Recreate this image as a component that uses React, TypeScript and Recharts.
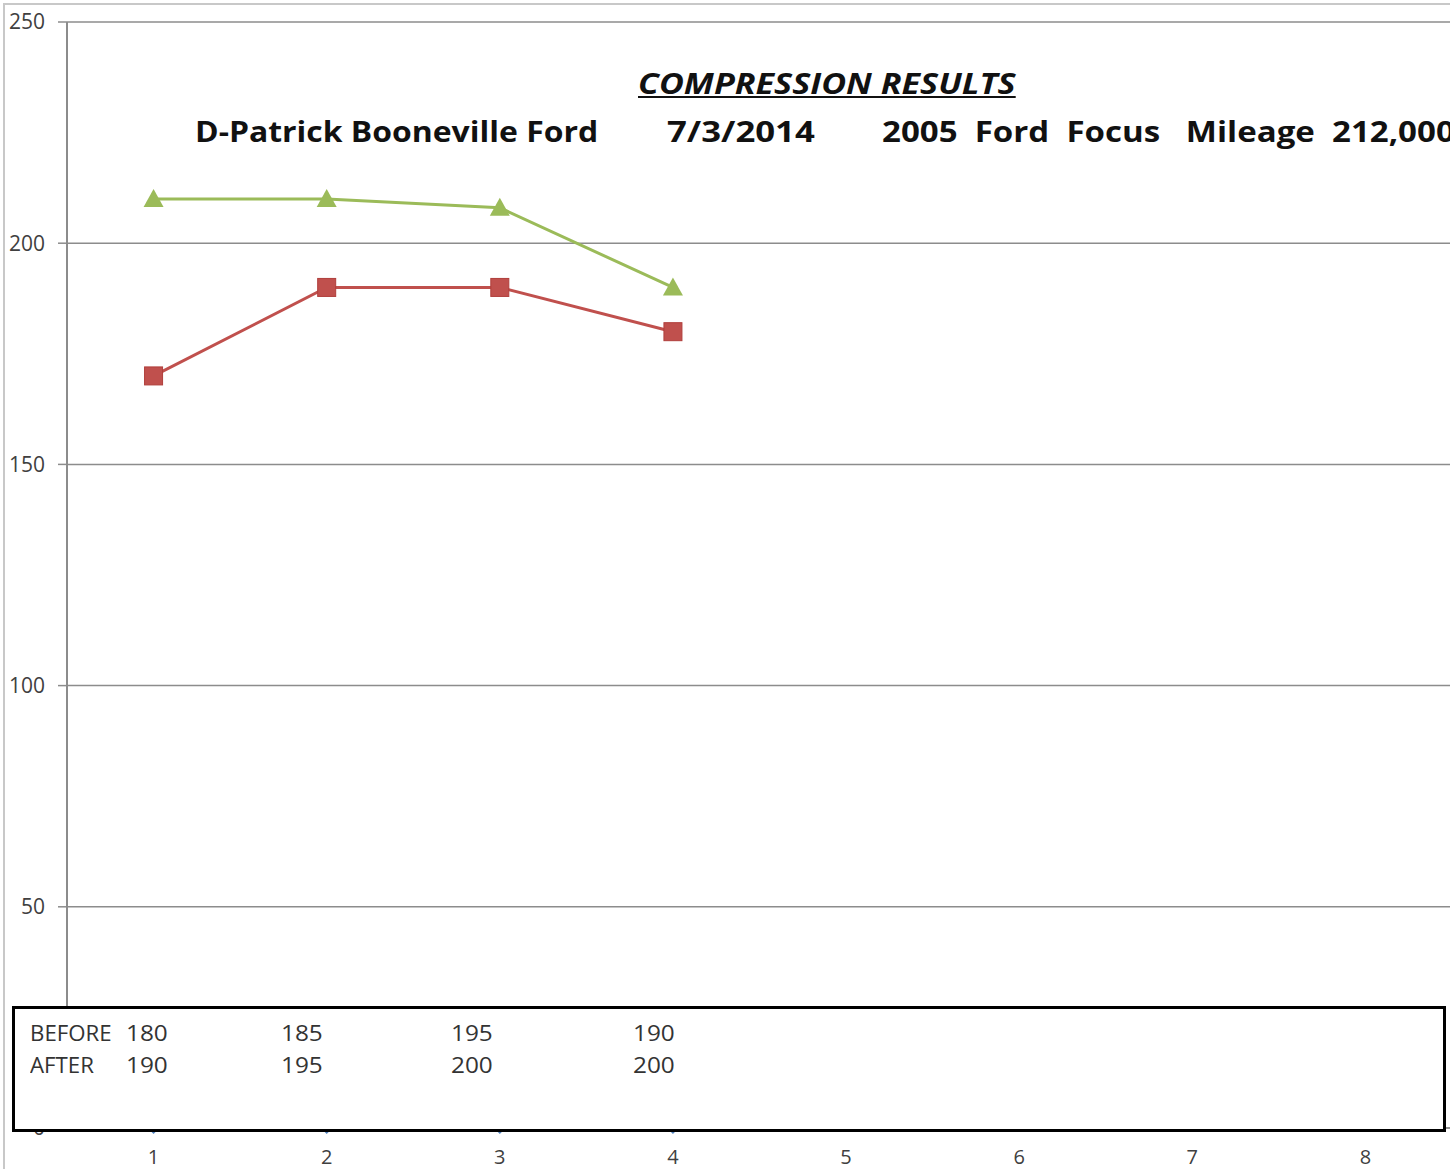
import React from "react";
import { LineChart, Line, XAxis, YAxis, CartesianGrid } from "recharts";

const cylinders = [1, 2, 3, 4, 5, 6, 7, 8];
const beforeSeries = [170, 190, 190, 180];
const afterSeries = [210, 210, 208, 190];
const baseSeries = [0, 0, 0, 0];
const yTicks = [0, 50, 100, 150, 200, 250];
const minorTicks = [0.5, 1.5, 2.5, 3.5, 4.5, 5.5, 6.5, 7.5, 8.5];

const boxBefore = [180, 185, 195, 190];
const boxAfter = [190, 195, 200, 200];

const data = cylinders.map((c, i) => ({
    cyl: c,
    before: beforeSeries[i] ?? null,
    after: afterSeries[i] ?? null,
    base: baseSeries[i] ?? null,
}));

const font = "'Open Sans', Lato, sans-serif";
const boxCols = [126, 281, 451, 633];

const Square = (props: any) => {
    const { cx, cy, index } = props;
    if (cx == null || cy == null) return <g key={index} />;
    return <rect key={index} x={cx - 9} y={cy - 9} width={18} height={18} fill="#C0504D" stroke="#B03E3B" strokeWidth={1} />;
};

const Triangle = (props: any) => {
    const { cx, cy, index } = props;
    if (cx == null || cy == null) return <g key={index} />;
    return <path key={index} d={`M${cx},${cy - 10} L${cx + 10},${cy + 8} L${cx - 10},${cy + 8} Z`} fill="#9BBB59" />;
};

const Diamond = (props: any) => {
    const { cx, cy, index } = props;
    if (cx == null || cy == null) return <g key={index} />;
    return <path key={index} d={`M${cx},${cy - 6} L${cx + 6},${cy} L${cx},${cy + 6} L${cx - 6},${cy} Z`} fill="#4F81BD" />;
};

// the reference text is set in a wider face than anything installed, so stretch it a little
const Wide = ({ left, top, size, k, style, children }: any) => (
    <div style={{ position: "absolute", left, top, fontSize: size, whiteSpace: "pre", transform: `scaleX(${k})`, transformOrigin: "left top", ...style }}>
        {children}
    </div>
);

const heading = { fontWeight: 700, color: "#111" };

export default function App() {
    return (
        <div style={{ position: "absolute", left: 0, top: 0, width: 1450, height: 1169, overflow: "hidden", background: "#fff", fontFamily: font }}>
            <div style={{ position: "absolute", left: 3, top: 3, width: 1460, height: 1180, borderLeft: "2px solid #c8c8c8", borderTop: "2px solid #c8c8c8" }} />

            <LineChart width={1452} height={1169} data={data} margin={{ top: 22, right: 0, bottom: 11, left: 1 }} style={{ position: "absolute", left: 0, top: 0 }}>
                <CartesianGrid vertical={false} stroke="#8c8c8c" strokeWidth={1.5} />
                <XAxis xAxisId="minor" type="number" domain={[0.5, 8.5]} ticks={minorTicks} height={0} tick={false} axisLine={false} tickLine={{ stroke: "#555", strokeWidth: 1.5 }} tickSize={7} allowDataOverflow />
                <XAxis dataKey="cyl" type="number" domain={[0.5, 8.5]} ticks={cylinders} height={30} tickLine={false} tickSize={10} tickMargin={12} axisLine={{ stroke: "#888", strokeWidth: 1.5 }} tick={{ fill: "#404040", fontSize: 20, fontFamily: font }} allowDataOverflow />
                <YAxis domain={[0, 250]} ticks={yTicks} width={66} tickSize={9} tickMargin={13} axisLine={{ stroke: "#8c8c8c", strokeWidth: 2 }} tickLine={{ stroke: "#8c8c8c", strokeWidth: 1.5 }} tick={{ fill: "#404040", fontSize: 21, fontFamily: font }} />
                <Line dataKey="base" stroke="#4F81BD" strokeWidth={3} dot={Diamond} isAnimationActive={false} />
                <Line dataKey="before" stroke="#C0504D" strokeWidth={3} dot={Square} isAnimationActive={false} />
                <Line dataKey="after" stroke="#9BBB59" strokeWidth={3} dot={Triangle} isAnimationActive={false} />
            </LineChart>

            <Wide left={638} top={64} size={28} k={1.22} style={{ ...heading, fontStyle: "italic", textDecoration: "underline" }}>
                COMPRESSION RESULTS
            </Wide>
            <Wide left={195} top={112} size={28} k={1.14} style={heading}>D-Patrick Booneville Ford</Wide>
            <Wide left={667} top={112} size={28} k={1.24} style={heading}>7/3/2014</Wide>
            <Wide left={882} top={112} size={28} k={1.18} style={heading}>{"2005  Ford  Focus   Mileage  212,000"}</Wide>

            <div style={{ position: "absolute", left: 12, top: 1006, width: 1434, height: 126, boxSizing: "border-box", border: "3px solid #000", background: "#fff" }} />
            {[{ label: "BEFORE", vals: boxBefore, top: 1019 }, { label: "AFTER", vals: boxAfter, top: 1051 }].map((row) => (
                <React.Fragment key={row.label}>
                    <Wide left={30} top={row.top} size={21} k={1.06} style={{ color: "#333" }}>{row.label}</Wide>
                    {row.vals.map((v, i) => (
                        <Wide key={i} left={boxCols[i]} top={row.top} size={21} k={1.16} style={{ color: "#333" }}>{v}</Wide>
                    ))}
                </React.Fragment>
            ))}
        </div>
    );
}
